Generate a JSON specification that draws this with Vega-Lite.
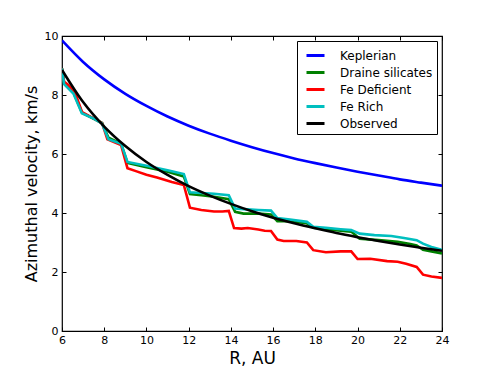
{
  "$schema": "https://vega.github.io/schema/vega-lite/v6.json",
  "width": 380,
  "height": 295,
  "autosize": {"type": "none"},
  "padding": {"left": 62, "top": 36, "right": 49, "bottom": 37},
  "background": "white",
  "config": {
    "view": {"stroke": "black", "strokeWidth": 1.2},
    "font": "DejaVu Sans",
    "axis": {"grid": false, "domain": false, "tickColor": "black", "tickSize": -4, "labelColor": "black", "labelFontSize": 11, "labelFlush": false, "labelFont": "DejaVu Sans", "titleFont": "DejaVu Sans", "titleFontSize": 17, "titleFontWeight": "normal", "titleColor": "black"}
  },
  "resolve": {"axis": {"x": "independent", "y": "independent"}},
  "data": {"values": [
    {"R": 6, "v": 9.85, "s": "Keplerian"},
    {"R": 7, "v": 9.12, "s": "Keplerian"},
    {"R": 8, "v": 8.53, "s": "Keplerian"},
    {"R": 9, "v": 8.04, "s": "Keplerian"},
    {"R": 10, "v": 7.63, "s": "Keplerian"},
    {"R": 11, "v": 7.27, "s": "Keplerian"},
    {"R": 12, "v": 6.96, "s": "Keplerian"},
    {"R": 13, "v": 6.69, "s": "Keplerian"},
    {"R": 14, "v": 6.45, "s": "Keplerian"},
    {"R": 15, "v": 6.23, "s": "Keplerian"},
    {"R": 16, "v": 6.03, "s": "Keplerian"},
    {"R": 17, "v": 5.85, "s": "Keplerian"},
    {"R": 18, "v": 5.69, "s": "Keplerian"},
    {"R": 19, "v": 5.54, "s": "Keplerian"},
    {"R": 20, "v": 5.40, "s": "Keplerian"},
    {"R": 21, "v": 5.27, "s": "Keplerian"},
    {"R": 22, "v": 5.14, "s": "Keplerian"},
    {"R": 23, "v": 5.03, "s": "Keplerian"},
    {"R": 24, "v": 4.925, "s": "Keplerian"},

    {"R": 6.0, "v": 8.9, "s": "Draine silicates"},
    {"R": 6.1, "v": 8.4, "s": "Draine silicates"},
    {"R": 6.55, "v": 8.08, "s": "Draine silicates"},
    {"R": 6.95, "v": 7.4, "s": "Draine silicates"},
    {"R": 7.9, "v": 7.05, "s": "Draine silicates"},
    {"R": 8.2, "v": 6.55, "s": "Draine silicates"},
    {"R": 8.8, "v": 6.35, "s": "Draine silicates"},
    {"R": 9.1, "v": 5.7, "s": "Draine silicates"},
    {"R": 10.0, "v": 5.55, "s": "Draine silicates"},
    {"R": 11.0, "v": 5.4, "s": "Draine silicates"},
    {"R": 11.77, "v": 5.24, "s": "Draine silicates"},
    {"R": 12.06, "v": 4.64, "s": "Draine silicates"},
    {"R": 12.6, "v": 4.6, "s": "Draine silicates"},
    {"R": 13.2, "v": 4.55, "s": "Draine silicates"},
    {"R": 13.9, "v": 4.47, "s": "Draine silicates"},
    {"R": 14.2, "v": 4.04, "s": "Draine silicates"},
    {"R": 14.6, "v": 3.98, "s": "Draine silicates"},
    {"R": 15.3, "v": 3.98, "s": "Draine silicates"},
    {"R": 15.9, "v": 3.95, "s": "Draine silicates"},
    {"R": 16.2, "v": 3.72, "s": "Draine silicates"},
    {"R": 16.8, "v": 3.72, "s": "Draine silicates"},
    {"R": 17.6, "v": 3.65, "s": "Draine silicates"},
    {"R": 17.9, "v": 3.5, "s": "Draine silicates"},
    {"R": 18.5, "v": 3.45, "s": "Draine silicates"},
    {"R": 19.2, "v": 3.4, "s": "Draine silicates"},
    {"R": 19.7, "v": 3.37, "s": "Draine silicates"},
    {"R": 20.1, "v": 3.13, "s": "Draine silicates"},
    {"R": 21.0, "v": 3.08, "s": "Draine silicates"},
    {"R": 21.9, "v": 3.02, "s": "Draine silicates"},
    {"R": 22.5, "v": 2.95, "s": "Draine silicates"},
    {"R": 22.8, "v": 2.9, "s": "Draine silicates"},
    {"R": 23.1, "v": 2.75, "s": "Draine silicates"},
    {"R": 23.5, "v": 2.7, "s": "Draine silicates"},
    {"R": 24.0, "v": 2.63, "s": "Draine silicates"},

    {"R": 6.0, "v": 8.9, "s": "Fe Deficient"},
    {"R": 6.1, "v": 8.45, "s": "Fe Deficient"},
    {"R": 6.3, "v": 8.34, "s": "Fe Deficient"},
    {"R": 6.63, "v": 8.05, "s": "Fe Deficient"},
    {"R": 6.95, "v": 7.42, "s": "Fe Deficient"},
    {"R": 7.9, "v": 7.05, "s": "Fe Deficient"},
    {"R": 8.15, "v": 6.5, "s": "Fe Deficient"},
    {"R": 8.8, "v": 6.3, "s": "Fe Deficient"},
    {"R": 9.1, "v": 5.52, "s": "Fe Deficient"},
    {"R": 9.5, "v": 5.42, "s": "Fe Deficient"},
    {"R": 10.0, "v": 5.3, "s": "Fe Deficient"},
    {"R": 10.5, "v": 5.2, "s": "Fe Deficient"},
    {"R": 11.2, "v": 5.05, "s": "Fe Deficient"},
    {"R": 11.77, "v": 4.95, "s": "Fe Deficient"},
    {"R": 12.06, "v": 4.18, "s": "Fe Deficient"},
    {"R": 12.6, "v": 4.1, "s": "Fe Deficient"},
    {"R": 13.2, "v": 4.05, "s": "Fe Deficient"},
    {"R": 13.6, "v": 4.05, "s": "Fe Deficient"},
    {"R": 13.9, "v": 4.07, "s": "Fe Deficient"},
    {"R": 14.15, "v": 3.49, "s": "Fe Deficient"},
    {"R": 14.5, "v": 3.47, "s": "Fe Deficient"},
    {"R": 14.8, "v": 3.49, "s": "Fe Deficient"},
    {"R": 15.3, "v": 3.44, "s": "Fe Deficient"},
    {"R": 15.6, "v": 3.4, "s": "Fe Deficient"},
    {"R": 15.9, "v": 3.39, "s": "Fe Deficient"},
    {"R": 16.2, "v": 3.1, "s": "Fe Deficient"},
    {"R": 16.5, "v": 3.05, "s": "Fe Deficient"},
    {"R": 17.1, "v": 3.05, "s": "Fe Deficient"},
    {"R": 17.6, "v": 3.0, "s": "Fe Deficient"},
    {"R": 17.9, "v": 2.74, "s": "Fe Deficient"},
    {"R": 18.5, "v": 2.67, "s": "Fe Deficient"},
    {"R": 19.2, "v": 2.7, "s": "Fe Deficient"},
    {"R": 19.7, "v": 2.7, "s": "Fe Deficient"},
    {"R": 20.0, "v": 2.44, "s": "Fe Deficient"},
    {"R": 20.6, "v": 2.45, "s": "Fe Deficient"},
    {"R": 21.4, "v": 2.37, "s": "Fe Deficient"},
    {"R": 21.9, "v": 2.35, "s": "Fe Deficient"},
    {"R": 22.3, "v": 2.28, "s": "Fe Deficient"},
    {"R": 22.8, "v": 2.17, "s": "Fe Deficient"},
    {"R": 23.1, "v": 1.91, "s": "Fe Deficient"},
    {"R": 23.5, "v": 1.85, "s": "Fe Deficient"},
    {"R": 24.0, "v": 1.8, "s": "Fe Deficient"},

    {"R": 6.0, "v": 8.9, "s": "Fe Rich"},
    {"R": 6.1, "v": 8.37, "s": "Fe Rich"},
    {"R": 6.54, "v": 8.05, "s": "Fe Rich"},
    {"R": 6.94, "v": 7.38, "s": "Fe Rich"},
    {"R": 7.5, "v": 7.2, "s": "Fe Rich"},
    {"R": 7.89, "v": 7.04, "s": "Fe Rich"},
    {"R": 8.2, "v": 6.5, "s": "Fe Rich"},
    {"R": 8.8, "v": 6.35, "s": "Fe Rich"},
    {"R": 9.1, "v": 5.73, "s": "Fe Rich"},
    {"R": 10.0, "v": 5.6, "s": "Fe Rich"},
    {"R": 11.0, "v": 5.45, "s": "Fe Rich"},
    {"R": 11.77, "v": 5.32, "s": "Fe Rich"},
    {"R": 12.06, "v": 4.7, "s": "Fe Rich"},
    {"R": 12.6, "v": 4.68, "s": "Fe Rich"},
    {"R": 13.2, "v": 4.65, "s": "Fe Rich"},
    {"R": 13.9, "v": 4.6, "s": "Fe Rich"},
    {"R": 14.2, "v": 4.15, "s": "Fe Rich"},
    {"R": 14.6, "v": 4.13, "s": "Fe Rich"},
    {"R": 15.3, "v": 4.1, "s": "Fe Rich"},
    {"R": 15.9, "v": 4.08, "s": "Fe Rich"},
    {"R": 16.2, "v": 3.83, "s": "Fe Rich"},
    {"R": 16.8, "v": 3.78, "s": "Fe Rich"},
    {"R": 17.6, "v": 3.7, "s": "Fe Rich"},
    {"R": 17.9, "v": 3.53, "s": "Fe Rich"},
    {"R": 18.5, "v": 3.5, "s": "Fe Rich"},
    {"R": 19.2, "v": 3.45, "s": "Fe Rich"},
    {"R": 19.7, "v": 3.42, "s": "Fe Rich"},
    {"R": 20.1, "v": 3.3, "s": "Fe Rich"},
    {"R": 20.8, "v": 3.25, "s": "Fe Rich"},
    {"R": 21.6, "v": 3.22, "s": "Fe Rich"},
    {"R": 22.2, "v": 3.15, "s": "Fe Rich"},
    {"R": 22.8, "v": 3.08, "s": "Fe Rich"},
    {"R": 23.1, "v": 2.96, "s": "Fe Rich"},
    {"R": 23.5, "v": 2.85, "s": "Fe Rich"},
    {"R": 24.0, "v": 2.75, "s": "Fe Rich"},

    {"R": 6, "v": 8.85, "s": "Observed"},
    {"R": 7, "v": 7.76, "s": "Observed"},
    {"R": 8, "v": 6.93, "s": "Observed"},
    {"R": 9, "v": 6.27, "s": "Observed"},
    {"R": 10, "v": 5.73, "s": "Observed"},
    {"R": 11, "v": 5.29, "s": "Observed"},
    {"R": 12, "v": 4.91, "s": "Observed"},
    {"R": 13, "v": 4.59, "s": "Observed"},
    {"R": 14, "v": 4.31, "s": "Observed"},
    {"R": 15, "v": 4.06, "s": "Observed"},
    {"R": 16, "v": 3.84, "s": "Observed"},
    {"R": 17, "v": 3.65, "s": "Observed"},
    {"R": 18, "v": 3.48, "s": "Observed"},
    {"R": 19, "v": 3.32, "s": "Observed"},
    {"R": 20, "v": 3.18, "s": "Observed"},
    {"R": 21, "v": 3.05, "s": "Observed"},
    {"R": 22, "v": 2.93, "s": "Observed"},
    {"R": 23, "v": 2.82, "s": "Observed"},
    {"R": 24, "v": 2.72, "s": "Observed"}
  ]},
  "layer": [
    {
      "mark": {"type": "line", "strokeWidth": 2.6, "clip": true},
      "transform": [{"filter": "datum.s !== 'Keplerian' && datum.s !== 'Observed'"}],
      "encoding": {
        "x": {"field": "R", "type": "quantitative", "scale": {"domain": [6, 24], "nice": false, "zero": false}, "axis": {"orient": "bottom", "title": "R, AU", "values": [6, 8, 10, 12, 14, 16, 18, 20, 22, 24], "labelPadding": 7, "titlePadding": 5}},
        "y": {"field": "v", "type": "quantitative", "scale": {"domain": [0, 10], "nice": false}, "axis": {"orient": "left", "title": "Azimuthal velocity, km/s", "titleFontSize": 16, "values": [0, 2, 4, 6, 8, 10], "labelPadding": 8, "titlePadding": 5}},
        "color": {"field": "s", "type": "nominal", "scale": {"domain": ["Keplerian", "Draine silicates", "Fe Deficient", "Fe Rich", "Observed"], "range": ["#0000ff", "#008000", "#ff0000", "#00bfbf", "#000000"]},
          "legend": {"title": null, "orient": "none", "legendX": 235, "legendY": 5, "symbolType": "stroke", "symbolSize": 324, "symbolStrokeWidth": 3, "labelFontSize": 12, "labelColor": "black", "labelOffset": 14, "rowPadding": 0, "padding": 4, "fillColor": "white", "strokeColor": "black", "symbolOffset": 4}},
        "order": {"field": "R", "type": "quantitative"}
      }
    },
    {
      "mark": {"type": "line", "strokeWidth": 2.6, "interpolate": "monotone", "clip": true},
      "transform": [{"filter": "datum.s === 'Keplerian' || datum.s === 'Observed'"}],
      "encoding": {
        "x": {"field": "R", "type": "quantitative", "axis": {"orient": "top", "labels": false, "title": null, "values": [6, 8, 10, 12, 14, 16, 18, 20, 22, 24]}},
        "y": {"field": "v", "type": "quantitative", "axis": {"orient": "right", "labels": false, "title": null, "values": [0, 2, 4, 6, 8, 10]}},
        "color": {"field": "s", "type": "nominal"},
        "order": {"field": "R", "type": "quantitative"}
      }
    }
  ]
}
